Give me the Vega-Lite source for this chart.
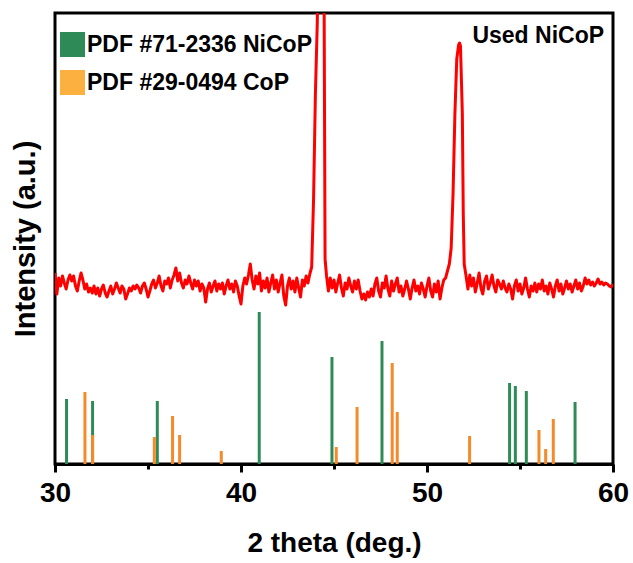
{
  "$schema": "https://vega.github.io/schema/vega-lite/v6.json",
  "autosize": {"type": "none"},
  "width": 558,
  "height": 451,
  "padding": {"left": 55, "top": 13, "right": 20, "bottom": 99},
  "background": "white",
  "config": {
    "view": {"stroke": "black", "strokeWidth": 3}
  },
  "datasets": {
    "xrd": [
      {"t":30.0,"h":191},{"t":30.1,"h":170},{"t":30.2,"h":186},{"t":30.3,"h":178},{"t":30.4,"h":188},{"t":30.5,"h":181},{"t":30.6,"h":175},{"t":30.7,"h":184},{"t":30.8,"h":189},{"t":30.9,"h":183},
      {"t":31.0,"h":188},{"t":31.1,"h":178},{"t":31.2,"h":173},{"t":31.3,"h":183},{"t":31.4,"h":191},{"t":31.5,"h":184},{"t":31.6,"h":175},{"t":31.7,"h":180},{"t":31.8,"h":172},{"t":31.9,"h":176},
      {"t":32.0,"h":171},{"t":32.1,"h":178},{"t":32.2,"h":170},{"t":32.3,"h":176},{"t":32.4,"h":168},{"t":32.5,"h":175},{"t":32.6,"h":179},{"t":32.7,"h":171},{"t":32.8,"h":167},{"t":32.9,"h":173},
      {"t":33.0,"h":178},{"t":33.1,"h":170},{"t":33.2,"h":175},{"t":33.3,"h":181},{"t":33.4,"h":176},{"t":33.5,"h":171},{"t":33.6,"h":178},{"t":33.7,"h":175},{"t":33.8,"h":165},{"t":33.9,"h":170},
      {"t":34.0,"h":176},{"t":34.1,"h":173},{"t":34.2,"h":178},{"t":34.3,"h":175},{"t":34.4,"h":179},{"t":34.5,"h":176},{"t":34.6,"h":171},{"t":34.7,"h":178},{"t":34.8,"h":181},{"t":34.9,"h":175},
      {"t":35.0,"h":167},{"t":35.1,"h":173},{"t":35.2,"h":180},{"t":35.3,"h":184},{"t":35.4,"h":176},{"t":35.5,"h":181},{"t":35.6,"h":188},{"t":35.7,"h":178},{"t":35.8,"h":173},{"t":35.9,"h":183},
      {"t":36.0,"h":180},{"t":36.1,"h":186},{"t":36.2,"h":176},{"t":36.3,"h":184},{"t":36.4,"h":189},{"t":36.5,"h":196},{"t":36.6,"h":183},{"t":36.7,"h":191},{"t":36.8,"h":181},{"t":36.9,"h":176},
      {"t":37.0,"h":184},{"t":37.1,"h":180},{"t":37.2,"h":188},{"t":37.3,"h":181},{"t":37.4,"h":175},{"t":37.5,"h":184},{"t":37.6,"h":178},{"t":37.7,"h":183},{"t":37.8,"h":173},{"t":37.9,"h":180},
      {"t":38.0,"h":176},{"t":38.1,"h":162},{"t":38.2,"h":175},{"t":38.3,"h":181},{"t":38.4,"h":172},{"t":38.5,"h":178},{"t":38.6,"h":183},{"t":38.7,"h":173},{"t":38.8,"h":180},{"t":38.9,"h":175},
      {"t":39.0,"h":181},{"t":39.1,"h":170},{"t":39.2,"h":178},{"t":39.3,"h":184},{"t":39.4,"h":175},{"t":39.5,"h":180},{"t":39.6,"h":172},{"t":39.7,"h":183},{"t":39.8,"h":178},{"t":39.9,"h":168},
      {"t":40.0,"h":160},{"t":40.1,"h":178},{"t":40.2,"h":186},{"t":40.3,"h":180},{"t":40.4,"h":189},{"t":40.5,"h":200},{"t":40.6,"h":184},{"t":40.7,"h":175},{"t":40.8,"h":188},{"t":40.9,"h":180},
      {"t":41.0,"h":191},{"t":41.1,"h":173},{"t":41.2,"h":183},{"t":41.3,"h":176},{"t":41.4,"h":186},{"t":41.5,"h":172},{"t":41.6,"h":181},{"t":41.7,"h":189},{"t":41.8,"h":175},{"t":41.9,"h":184},
      {"t":42.0,"h":172},{"t":42.1,"h":181},{"t":42.2,"h":189},{"t":42.3,"h":168},{"t":42.4,"h":159},{"t":42.5,"h":178},{"t":42.6,"h":186},{"t":42.7,"h":175},{"t":42.8,"h":183},{"t":42.9,"h":172},
      {"t":43.0,"h":186},{"t":43.1,"h":176},{"t":43.2,"h":167},{"t":43.3,"h":184},{"t":43.4,"h":178},{"t":43.5,"h":188},{"t":43.6,"h":181},{"t":43.7,"h":190},{"t":43.8,"h":197},{"t":43.9,"h":264},
      {"t":44.0,"h":370},{"t":44.1,"h":440},{"t":44.2,"h":560},{"t":44.3,"h":640},{"t":44.4,"h":600},{"t":44.47,"h":455},{"t":44.52,"h":205},{"t":44.6,"h":188},{"t":44.7,"h":173},{"t":44.8,"h":186},{"t":44.9,"h":176},
      {"t":45.0,"h":184},{"t":45.1,"h":172},{"t":45.2,"h":181},{"t":45.3,"h":189},{"t":45.4,"h":176},{"t":45.5,"h":168},{"t":45.6,"h":181},{"t":45.7,"h":175},{"t":45.8,"h":186},{"t":45.9,"h":178},
      {"t":46.0,"h":172},{"t":46.1,"h":183},{"t":46.2,"h":175},{"t":46.3,"h":184},{"t":46.4,"h":173},{"t":46.5,"h":165},{"t":46.6,"h":170},{"t":46.7,"h":164},{"t":46.8,"h":172},{"t":46.9,"h":167},
      {"t":47.0,"h":175},{"t":47.1,"h":168},{"t":47.2,"h":180},{"t":47.3,"h":186},{"t":47.4,"h":173},{"t":47.5,"h":167},{"t":47.6,"h":181},{"t":47.7,"h":176},{"t":47.8,"h":188},{"t":47.9,"h":175},
      {"t":48.0,"h":168},{"t":48.1,"h":183},{"t":48.2,"h":173},{"t":48.3,"h":180},{"t":48.4,"h":186},{"t":48.5,"h":172},{"t":48.6,"h":178},{"t":48.7,"h":168},{"t":48.8,"h":175},{"t":48.9,"h":183},
      {"t":49.0,"h":175},{"t":49.1,"h":165},{"t":49.2,"h":176},{"t":49.3,"h":184},{"t":49.4,"h":173},{"t":49.5,"h":178},{"t":49.6,"h":170},{"t":49.7,"h":181},{"t":49.8,"h":175},{"t":49.9,"h":167},
      {"t":50.0,"h":178},{"t":50.1,"h":186},{"t":50.2,"h":173},{"t":50.3,"h":167},{"t":50.4,"h":180},{"t":50.5,"h":172},{"t":50.6,"h":183},{"t":50.7,"h":165},{"t":50.8,"h":176},{"t":50.9,"h":184},
      {"t":51.0,"h":186},{"t":51.1,"h":193},{"t":51.2,"h":200},{"t":51.3,"h":216},{"t":51.4,"h":270},{"t":51.5,"h":350},{"t":51.6,"h":405},{"t":51.7,"h":419},{"t":51.75,"h":421},{"t":51.8,"h":418},{"t":51.9,"h":350},{"t":51.95,"h":250},
      {"t":52.0,"h":200},{"t":52.1,"h":188},{"t":52.2,"h":175},{"t":52.3,"h":189},{"t":52.4,"h":178},{"t":52.5,"h":186},{"t":52.6,"h":172},{"t":52.7,"h":181},{"t":52.8,"h":191},{"t":52.9,"h":176},
      {"t":53.0,"h":170},{"t":53.1,"h":183},{"t":53.2,"h":188},{"t":53.3,"h":175},{"t":53.4,"h":181},{"t":53.5,"h":189},{"t":53.6,"h":178},{"t":53.7,"h":172},{"t":53.8,"h":184},{"t":53.9,"h":180},
      {"t":54.0,"h":175},{"t":54.1,"h":183},{"t":54.2,"h":176},{"t":54.3,"h":172},{"t":54.4,"h":180},{"t":54.5,"h":175},{"t":54.6,"h":165},{"t":54.7,"h":178},{"t":54.8,"h":184},{"t":54.9,"h":173},
      {"t":55.0,"h":180},{"t":55.1,"h":170},{"t":55.2,"h":176},{"t":55.3,"h":186},{"t":55.4,"h":175},{"t":55.5,"h":167},{"t":55.6,"h":178},{"t":55.7,"h":173},{"t":55.8,"h":181},{"t":55.9,"h":172},
      {"t":56.0,"h":180},{"t":56.1,"h":175},{"t":56.2,"h":184},{"t":56.3,"h":173},{"t":56.4,"h":178},{"t":56.5,"h":170},{"t":56.6,"h":181},{"t":56.7,"h":175},{"t":56.8,"h":167},{"t":56.9,"h":178},
      {"t":57.0,"h":184},{"t":57.1,"h":173},{"t":57.2,"h":180},{"t":57.3,"h":170},{"t":57.4,"h":176},{"t":57.5,"h":183},{"t":57.6,"h":175},{"t":57.7,"h":180},{"t":57.8,"h":172},{"t":57.9,"h":178},
      {"t":58.0,"h":184},{"t":58.1,"h":175},{"t":58.2,"h":181},{"t":58.3,"h":173},{"t":58.4,"h":178},{"t":58.5,"h":186},{"t":58.6,"h":180},{"t":58.7,"h":184},{"t":58.8,"h":179},{"t":58.9,"h":182},
      {"t":59.0,"h":178},{"t":59.1,"h":181},{"t":59.2,"h":185},{"t":59.3,"h":180},{"t":59.4,"h":182},{"t":59.5,"h":179},{"t":59.6,"h":181},{"t":59.7,"h":180},{"t":59.8,"h":178},{"t":59.9,"h":177},
      {"t":60.0,"h":180}
    ],
    "sticks": [
      {"phase":"PDF #71-2336 NiCoP","t":30.62,"h":65},
      {"phase":"PDF #71-2336 NiCoP","t":32.02,"h":63},
      {"phase":"PDF #71-2336 NiCoP","t":35.50,"h":63},
      {"phase":"PDF #71-2336 NiCoP","t":40.98,"h":152},
      {"phase":"PDF #71-2336 NiCoP","t":44.89,"h":107},
      {"phase":"PDF #71-2336 NiCoP","t":47.58,"h":123},
      {"phase":"PDF #71-2336 NiCoP","t":54.44,"h":81},
      {"phase":"PDF #71-2336 NiCoP","t":54.75,"h":78},
      {"phase":"PDF #71-2336 NiCoP","t":55.34,"h":73},
      {"phase":"PDF #71-2336 NiCoP","t":57.96,"h":62},
      {"phase":"PDF #29-0494 CoP","t":31.61,"h":72},
      {"phase":"PDF #29-0494 CoP","t":32.02,"h":29},
      {"phase":"PDF #29-0494 CoP","t":35.34,"h":27},
      {"phase":"PDF #29-0494 CoP","t":36.32,"h":48},
      {"phase":"PDF #29-0494 CoP","t":36.70,"h":29},
      {"phase":"PDF #29-0494 CoP","t":38.94,"h":13},
      {"phase":"PDF #29-0494 CoP","t":45.12,"h":17},
      {"phase":"PDF #29-0494 CoP","t":46.24,"h":57},
      {"phase":"PDF #29-0494 CoP","t":48.13,"h":101},
      {"phase":"PDF #29-0494 CoP","t":48.40,"h":52},
      {"phase":"PDF #29-0494 CoP","t":52.29,"h":28},
      {"phase":"PDF #29-0494 CoP","t":56.02,"h":34},
      {"phase":"PDF #29-0494 CoP","t":56.38,"h":15},
      {"phase":"PDF #29-0494 CoP","t":56.79,"h":45}
    ],
    "label": [{"text":"Used NiCoP","t":59.52,"h":421}]
  },
  "encoding": {
    "x": {
      "field": "t",
      "type": "quantitative",
      "scale": {"domain": [30, 60], "nice": false},
      "axis": {
        "title": "2 theta (deg.)",
        "values": [30, 35, 40, 45, 50, 55, 60],
        "labelExpr": "datum.value % 10 === 0 ? datum.label : ''",
        "tickSize": {"condition": {"test": "datum.value % 10 === 0", "value": 8}, "value": 5},
        "tickWidth": 3, "tickColor": "black",
        "domainColor": "black", "domainWidth": 3,
        "grid": false, "labelFlush": false, "labelOverlap": false, "labelBound": false,
        "labelFont": "Liberation Sans", "labelFontWeight": "bold", "labelFontSize": 28, "labelColor": "black", "labelPadding": 7,
        "titleFont": "Liberation Sans", "titleFontWeight": "bold", "titleFontSize": 28, "titleColor": "black", "titlePadding": 22
      }
    },
    "y": {
      "field": "h",
      "type": "quantitative",
      "scale": {"domain": [0, 451], "nice": false},
      "axis": {
        "title": "Intensity (a.u.)", "ticks": false, "labels": false, "domain": false, "grid": false,
        "titleFont": "Liberation Sans", "titleFontWeight": "bold", "titleFontSize": 29, "titleColor": "black", "titlePadding": 15
      }
    }
  },
  "layer": [
    {
      "data": {"name": "xrd"},
      "mark": {"type": "line", "color": "#FF0000", "strokeWidth": 3, "clip": true, "strokeJoin": "round"}
    },
    {
      "data": {"name": "sticks"},
      "transform": [{"filter": "datum.phase === 'PDF #71-2336 NiCoP'"}],
      "mark": {"type": "rule", "strokeWidth": 3, "color": "#2E8B57"},
      "encoding": {"y2": {"datum": 0}}
    },
    {
      "data": {"name": "sticks"},
      "transform": [{"filter": "datum.phase === 'PDF #29-0494 CoP'"}],
      "mark": {"type": "rule", "strokeWidth": 3, "color": "#F58A2A"},
      "encoding": {"y2": {"datum": 0}}
    },
    {
      "data": {"name": "sticks"},
      "mark": {"type": "square", "filled": true, "size": 0},
      "encoding": {
        "fill": {"field": "phase", "type": "nominal",
          "scale": {"domain": ["PDF #71-2336 NiCoP", "PDF #29-0494 CoP"], "range": ["#2E8B57", "#FBB040"]},
          "legend": {
            "title": null, "orient": "none", "legendX": 5, "legendY": 19, "padding": 0,
            "symbolType": "square", "symbolSize": 625, "symbolStrokeWidth": 0, "symbolOpacity": 1,
            "labelFont": "Liberation Sans", "labelFontWeight": "bold", "labelFontSize": 23,
            "labelColor": "black", "labelOffset": 2, "rowPadding": 13, "labelLimit": 400
          }}
      }
    },
    {
      "data": {"name": "label"},
      "mark": {"type": "text", "align": "right", "baseline": "alphabetic", "font": "Liberation Sans", "fontWeight": "bold", "fontSize": 23, "color": "black"},
      "encoding": {"text": {"field": "text"}}
    }
  ]
}
